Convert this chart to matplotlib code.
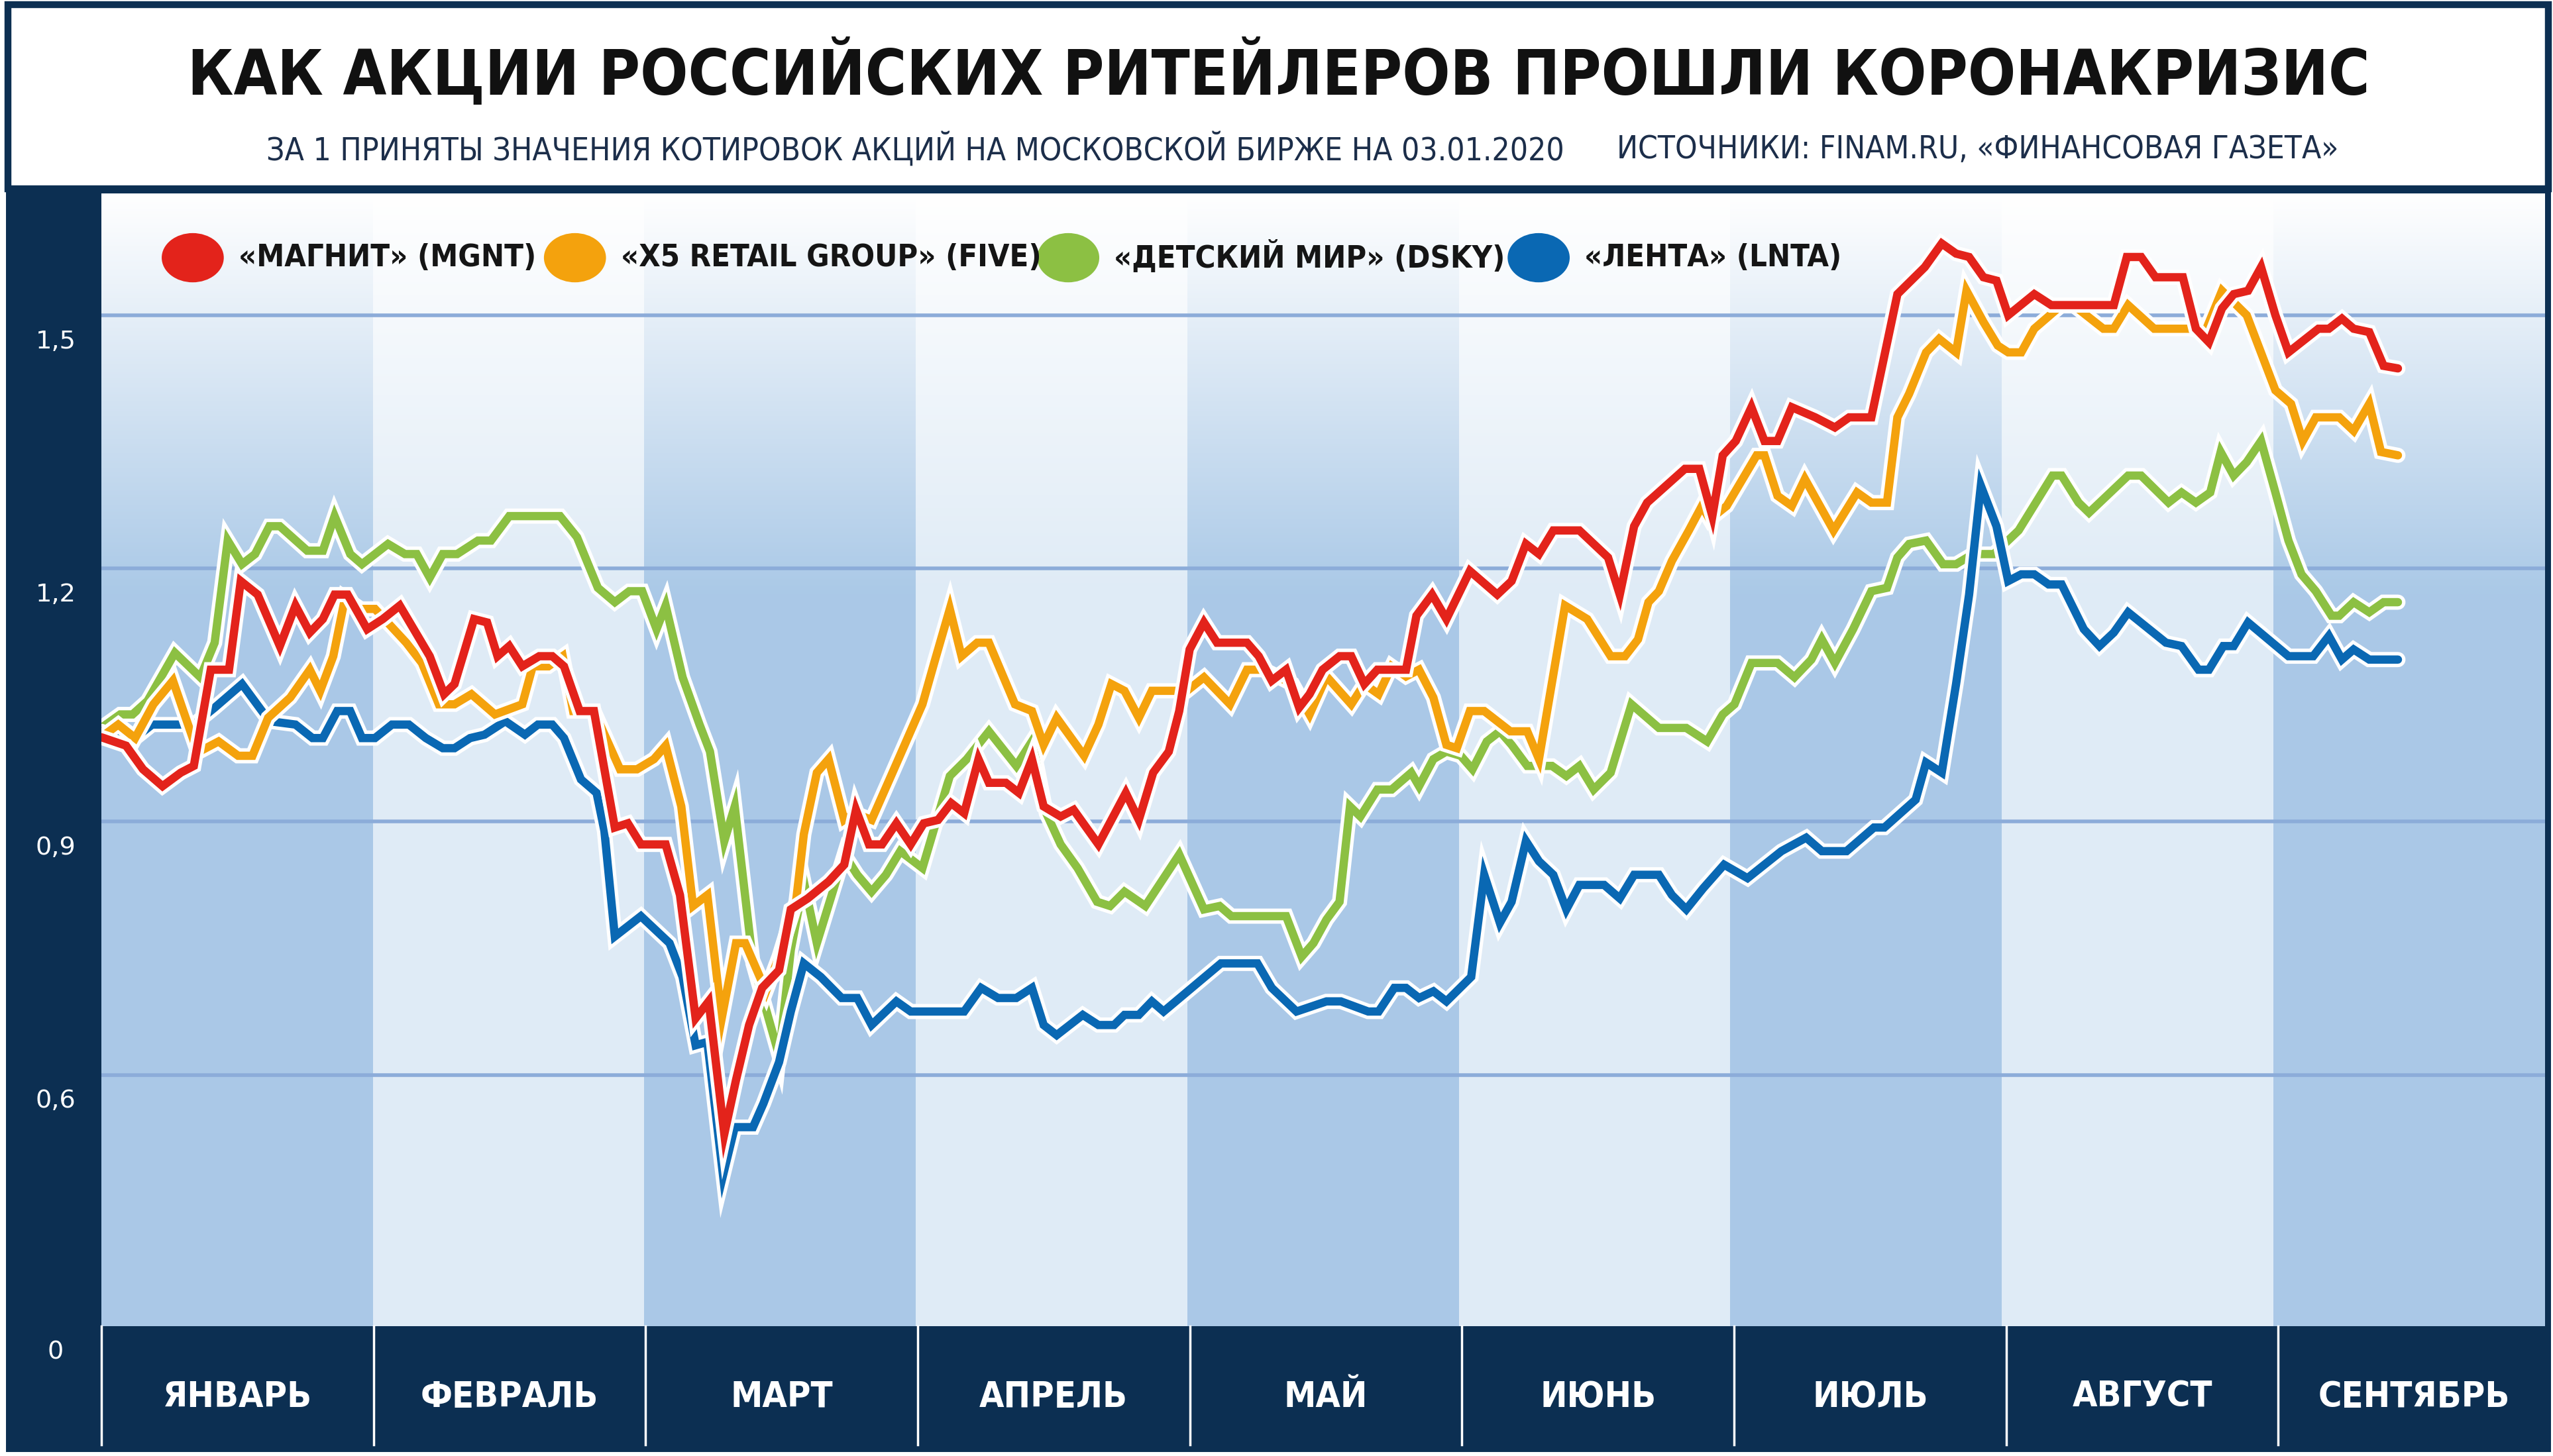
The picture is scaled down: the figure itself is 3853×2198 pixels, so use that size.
import numpy as np
import matplotlib
matplotlib.use("Agg")
import matplotlib.pyplot as plt
from matplotlib.patches import Rectangle, Ellipse
from matplotlib.lines import Line2D
import matplotlib.patheffects as pe

# --- данные: номер торговой сессии от 03.01.2020 и значение (03.01.2020 = 1) ---
months = ["ЯНВАРЬ", "ФЕВРАЛЬ", "МАРТ", "АПРЕЛЬ", "МАЙ", "ИЮНЬ", "ИЮЛЬ", "АВГУСТ", "СЕНТЯБРЬ"]
yticks = [1.5, 1.2, 0.9, 0.6]
ytick_labels = ["1,5", "1,2", "0,9", "0,6"]

mgnt_s = [0,1.9,3.2,4.7,6.1,7.1,8.4,9.8,10.7,12,13.7,14.9,16,17,17.9,18.9,20.4,21.6,22.9,25.2,
          26.3,27.1,28.6,29.6,30.4,31.3,32.3,33.6,34.6,35.5,36.7,37.8,39.4,40.4,41.4,43.3,44.4,45.6,46.6,47.8,
          48.7,49.7,50.7,52,52.9,54.2,55.8,57,57.9,58.9,59.9,61,62.1,63.1,64.2,65.2,66.2,67.3,68.1,69.4,
          70.4,71.4,72.3,73.6,74.6,76.5,78.6,79.6,80.7,81.9,82.7,83.5,84.6,85.6,87.9,88.8,89.8,90.9,91.9,92.7,
          93.7,95,95.9,96.9,97.9,100.1,100.9,102.1,103.2,105,107.1,108.2,109.3,110.3,111.4,113.4,115.6,116.5,117.6,118.6,
          121.5,122.6,123.6,124.4,125.4,126.6,127.6,128.6,129.7,131.5,133,134.1,135.8,137.8,139.9,141.2,142.3,143.3,144.4,145.4,
          146.3,148.3,149.6,154.4,155.4,156.5,157.6,159.7,160.7,161.7,162.7,163.6,164.7,165.7,166.8,167.8,170.1,170.9,171.9,172.8,
          174,175.1,176.2]
mgnt_v = [1.0,0.99,0.962,0.942,0.958,0.966,1.08,1.08,1.185,1.169,1.108,1.156,1.124,1.14,1.169,1.169,1.128,1.14,1.156,1.096,
          1.051,1.063,1.14,1.136,1.096,1.108,1.084,1.096,1.096,1.084,1.031,1.031,0.893,0.898,0.873,0.873,0.813,0.667,0.687,0.53,
          0.594,0.659,0.703,0.724,0.796,0.809,0.829,0.849,0.914,0.873,0.873,0.898,0.873,0.898,0.902,0.922,0.91,0.974,0.946,0.946,
          0.934,0.974,0.918,0.906,0.914,0.873,0.934,0.902,0.958,0.983,1.031,1.104,1.136,1.112,1.112,1.096,1.067,1.08,1.035,1.051,
          1.08,1.096,1.096,1.063,1.08,1.08,1.144,1.169,1.14,1.197,1.169,1.185,1.229,1.217,1.245,1.245,1.213,1.169,1.25,1.278,
          1.318,1.318,1.262,1.334,1.351,1.391,1.351,1.351,1.391,1.379,1.367,1.379,1.379,1.525,1.557,1.585,1.573,1.569,1.545,1.541,
          1.5,1.525,1.512,1.512,1.569,1.569,1.545,1.545,1.484,1.468,1.508,1.525,1.529,1.557,1.5,1.456,1.484,1.484,1.496,1.484,
          1.48,1.44,1.437]

five_s = [0,1.3,2.6,4,5.5,6.3,7.4,9,10.5,11.6,12.8,14.5,16,16.8,17.8,18.7,19.9,21,23.4,24.6,
          25.9,27.1,28.4,30.2,32.3,33.1,34.3,35.4,36.2,37.8,39.8,41.1,42.4,43.3,44.5,45.4,46.5,47.6,48.7,49.4,
          51,52,53.3,53.9,54.9,55.8,57,57.8,59.1,60.7,63,63.9,65.1,66,67.2,68.1,70.1,71.4,72.3,73.3,
          75.4,76.5,77.5,78.5,79.6,80.6,83.3,84.6,86.6,87.9,89.2,91.4,92.7,94,95.9,96.9,98,99,100.1,101.1,
          102.2,103.2,104,105,106.1,108.1,109.4,110.3,112.3,114,115.8,116.9,117.9,118.7,119.5,120.5,121.8,122.8,123.4,124.7,
          127,127.6,128.6,129.7,130.7,132.9,134.7,135.8,137,137.8,138.7,140,141,142.3,143.1,144.4,145.5,146.3,147.3,148.3,
          150.4,151.3,153.6,154.4,155.5,157.5,160.2,161.4,162.7,164.6,166.8,168,168.9,169.9,171.7,172.8,174,174.9,176.2]
five_v = [1.0,1.015,0.999,1.039,1.067,1.031,0.982,0.995,0.978,0.978,1.023,1.047,1.08,1.055,1.096,1.165,1.152,1.152,1.112,1.088,
          1.039,1.039,1.051,1.027,1.039,1.084,1.084,1.096,1.031,1.031,0.962,0.962,0.974,0.99,0.918,0.8,0.813,0.667,0.756,0.756,
          0.699,0.74,0.805,0.885,0.958,0.974,0.902,0.91,0.902,0.958,1.039,1.088,1.152,1.096,1.112,1.112,1.039,1.031,0.991,1.023,
          0.978,1.015,1.063,1.055,1.023,1.055,1.055,1.071,1.039,1.08,1.08,1.063,1.027,1.072,1.039,1.063,1.051,1.084,1.072,1.08,
          1.047,0.991,0.987,1.031,1.031,1.007,1.007,0.974,1.156,1.14,1.096,1.096,1.116,1.16,1.173,1.209,1.245,1.274,1.258,1.274,
          1.334,1.334,1.286,1.274,1.306,1.245,1.29,1.278,1.278,1.379,1.407,1.456,1.472,1.456,1.529,1.492,1.464,1.456,1.456,1.484,
          1.512,1.512,1.484,1.484,1.512,1.484,1.484,1.48,1.529,1.5,1.411,1.395,1.351,1.379,1.379,1.363,1.395,1.338,1.334]

dsky_s = [0,1.45,2.4,3.55,5.65,7.6,8.7,9.7,10.8,11.8,12.9,13.7,15.8,17,17.9,19.1,20,22,23.3,24.2,
          25.2,26.2,27.3,28.9,29.9,31.3,35.2,36.5,38.1,39.4,40.5,41.5,42.6,43.3,44.6,45.9,46.7,47.8,48.6,50,
          52,52.9,53.9,54.9,57,58,59.1,60.2,61.3,63,65.1,66.4,68.1,70.2,71.4,72.5,73.6,74.9,76.4,77.4,
          78.5,80.1,82.7,84.6,85.8,86.7,90.9,92.1,93,94,95,95.8,96.6,97.9,99,100.5,101.1,102.2,103.2,104.3,
          105.2,106.3,107.3,108.2,109.4,111.3,112.4,113.4,114.5,115.8,117.4,119.5,121.6,123.2,124.4,125.3,126.6,128.6,129.9,131.2,
          132,133,134.4,135.8,137,137.8,138.7,140,141.3,142.3,143.6,145.2,147.1,149.7,150.4,151.7,152.5,155.5,156.5,158.6,
          159.6,160.7,161.8,162.6,163.6,164.6,165.7,166.8,167.8,168.8,169.9,171.1,171.7,172.8,174,175.1,176.2]
dsky_v = [1.011,1.027,1.027,1.043,1.1,1.071,1.112,1.233,1.205,1.217,1.25,1.25,1.221,1.221,1.262,1.217,1.205,1.229,1.217,1.217,
          1.189,1.217,1.217,1.233,1.233,1.262,1.262,1.237,1.177,1.16,1.173,1.173,1.128,1.156,1.071,1.015,0.983,0.877,0.918,0.732,
          0.623,0.748,0.829,0.756,0.861,0.837,0.817,0.837,0.865,0.845,0.954,0.974,1.007,0.966,0.995,0.91,0.873,0.845,0.805,0.8,
          0.817,0.8,0.861,0.796,0.8,0.788,0.788,0.74,0.756,0.784,0.805,0.918,0.906,0.938,0.938,0.958,0.942,0.974,0.983,0.978,
          0.962,0.995,1.007,0.991,0.966,0.966,0.954,0.966,0.938,0.958,1.039,1.011,1.011,0.995,1.027,1.039,1.088,1.088,1.071,1.092,
          1.116,1.088,1.128,1.173,1.177,1.213,1.229,1.233,1.205,1.205,1.217,1.217,1.245,1.31,1.31,1.278,1.266,1.31,1.31,1.278,
          1.29,1.278,1.29,1.338,1.31,1.326,1.351,1.29,1.233,1.193,1.173,1.144,1.144,1.16,1.148,1.16,1.16]

lnta_s = [0,1.3,2.6,3.9,7.1,8.7,10.8,12.9,14.9,16.2,17,18.1,19.1,20,21,22.3,23.6,24.9,26.2,27.1,
          28.3,29.4,31,32.5,33.5,34.6,35.5,36.8,38,38.6,39.4,41.4,43.6,44.6,45.6,46.5,47.7,48.6,50,50.8,
          52,52.9,53.9,55.2,56.8,58,59.1,61,62.1,66.2,67.5,68.8,70.2,71.4,72.3,73.3,75.3,76.5,77.7,78.5,
          79.6,80.6,81.5,85.9,88.7,89.8,91.7,94,95.1,97.2,98,99.2,100.1,101.1,102.2,103.2,105.1,106.1,107.3,108.2,
          109.3,110.3,111.4,112.4,113.4,115.3,116.5,117.6,119.5,120.5,121.6,122.9,124.5,126.3,128.9,130.8,132,133.9,136,136.8,
          139.2,140,141.2,142.3,143.3,144.2,145.4,146.3,147.3,148.3,149.4,150.4,152.1,153.3,154.4,155.5,158.4,159.6,160.9,161.7,
          162.8,163.6,164.7,167.8,169.7,170.9,171.9,172.8,174,176.2]
lnta_v = [1.007,0.999,0.999,1.015,1.015,1.035,1.063,1.019,1.015,0.999,0.999,1.031,1.031,0.999,0.999,1.015,1.015,0.999,0.987,0.987,
          0.999,1.003,1.019,1.003,1.015,1.015,0.999,0.95,0.934,0.889,0.764,0.788,0.756,0.716,0.635,0.639,0.481,0.538,0.538,0.566,
          0.615,0.675,0.732,0.716,0.691,0.691,0.659,0.687,0.675,0.675,0.703,0.691,0.691,0.703,0.659,0.647,0.671,0.659,0.659,0.671,
          0.671,0.687,0.675,0.732,0.732,0.703,0.675,0.687,0.687,0.675,0.675,0.703,0.703,0.691,0.699,0.687,0.716,0.837,0.78,0.805,
          0.877,0.853,0.837,0.796,0.825,0.825,0.809,0.837,0.837,0.813,0.796,0.821,0.849,0.833,0.865,0.881,0.865,0.865,0.893,0.893,
          0.926,0.97,0.958,1.063,1.169,1.298,1.25,1.185,1.193,1.193,1.181,1.181,1.128,1.108,1.124,1.148,1.112,1.108,1.08,1.08,
          1.108,1.108,1.136,1.096,1.096,1.12,1.092,1.104,1.092,1.092]

series = [
    ("«ДЕТСКИЙ МИР» (DSKY)", dsky_s, dsky_v, "#8cc043"),
    ("«ЛЕНТА» (LNTA)", lnta_s, lnta_v, "#0a68b3"),
    ("«X5 RETAIL GROUP» (FIVE)", five_s, five_v, "#f4a20d"),
    ("«МАГНИТ» (MGNT)", mgnt_s, mgnt_v, "#e3231b"),
]
legend_order = [3, 2, 0, 1]

NAVY = "#0c2f52"
SPM = 20.83          # сессий в месяце (ширина колонки)
YMIN, YMAX = 0.302, 1.644
W, H = 1563, 887     # координаты макета

def fx(x): return x / W
def fy(y): return 1 - y / H

fig = plt.figure(figsize=(15.412, 8.792), dpi=250)
fig.patch.set_facecolor("white")
FONT = "DejaVu Sans"

# тёмная подложка и шапка
fig.add_artist(Rectangle((fx(5), fy(883)), fx(1555), (883 - 113) / H, transform=fig.transFigure,
                         facecolor=NAVY, edgecolor=NAVY, lw=2, zorder=0))
fig.add_artist(Rectangle((fx(5), fy(115)), fx(1555), 112 / H, transform=fig.transFigure,
                         facecolor="white", edgecolor=NAVY, lw=3, zorder=0))

ax = fig.add_axes([fx(62), fy(808), fx(1558 - 62), (808 - 118) / H])
ax.set_xlim(0, 9 * SPM)
ax.set_ylim(YMIN, YMAX)
ax.axis("off")

# фон колонок с градиентом сверху
yy = np.linspace(YMAX, YMIN, 400)
t = np.clip((YMAX - yy) / (YMAX - 1.17), 0, 1)[:, None]
for k in range(9):
    base = np.array([0.667, 0.788, 0.906]) if k % 2 == 0 else np.array([0.875, 0.922, 0.965])
    img = (1 - t) * np.ones(3) + t * base
    ax.imshow(img[:, None, :], extent=(k * SPM, (k + 1) * SPM, YMIN, YMAX), aspect="auto", zorder=0,
              interpolation="bilinear")

for v in yticks:
    ax.axhline(v, color="#8cacd9", lw=1.6, zorder=1)

for name, s, v, c in series:
    ax.plot(s, v, color=c, lw=3.6, solid_joinstyle="miter", solid_capstyle="round", zorder=3,
            path_effects=[pe.Stroke(linewidth=6.6, foreground="white"), pe.Normal()])

# легенда
leg_x = [118, 352, 654, 942]
for i, lx in zip(legend_order, leg_x):
    name, s, v, c = series[i]
    fig.add_artist(Ellipse((fx(lx), fy(157)), 38 / W, 30 / H, transform=fig.transFigure,
                           facecolor=c, edgecolor="none", zorder=5))
    fig.text(fx(lx + 28), fy(157), name, fontsize=13.5, fontweight="bold", fontstretch="condensed",
             family=FONT, color="#151515", va="center", ha="left", zorder=5)

# подписи оси Y
for v, lab in zip(yticks, ytick_labels):
    yd = 118 + (YMAX - v) / (YMAX - YMIN) * 690
    fig.text(fx(34), fy(yd + 16), lab, color="white", fontsize=11, family=FONT, ha="center", va="center")
fig.text(fx(34), fy(824), "0", color="white", fontsize=11, family=FONT, ha="center", va="center")

# месяцы
for k, m in enumerate(months):
    xc = 62 + (k + 0.5) * 166.6
    fig.text(fx(xc), fy(851), m, color="white", fontsize=15.5, fontweight="bold", fontstretch="condensed",
             family=FONT, ha="center", va="center")
    xb = 62 + k * 166.6
    fig.add_artist(Line2D([fx(xb), fx(xb)], [fy(808), fy(880)], transform=fig.transFigure,
                          color="white", lw=1.0, zorder=4))

# заголовки
title = fig.text(fx(783), fy(45), "КАК АКЦИИ РОССИЙСКИХ РИТЕЙЛЕРОВ ПРОШЛИ КОРОНАКРИЗИС",
                 fontsize=34, fontweight="heavy", fontstretch="condensed", family=FONT,
                 color="#111111", ha="center", va="center")
sub1 = fig.text(fx(163), fy(91), "ЗА 1 ПРИНЯТЫ ЗНАЧЕНИЯ КОТИРОВОК АКЦИЙ НА МОСКОВСКОЙ БИРЖЕ НА 03.01.2020",
                fontsize=13, fontstretch="condensed", family=FONT, color="#1c2e4a", ha="left", va="center")
sub2 = fig.text(fx(990), fy(91), "ИСТОЧНИКИ: FINAM.RU, «ФИНАНСОВАЯ ГАЗЕТА»",
                fontsize=13, fontstretch="condensed", family=FONT, color="#1c2e4a", ha="left", va="center")

# подгонка ширины текстов под макет
scale = 3853 / W
r = fig.canvas.get_renderer()
for txt, width in [(title, 1337), (sub1, 794), (sub2, 442)]:
    bb = txt.get_window_extent(r)
    txt.set_fontsize(txt.get_fontsize() * width * scale / bb.width)

fig.savefig("out.png", dpi=250)
